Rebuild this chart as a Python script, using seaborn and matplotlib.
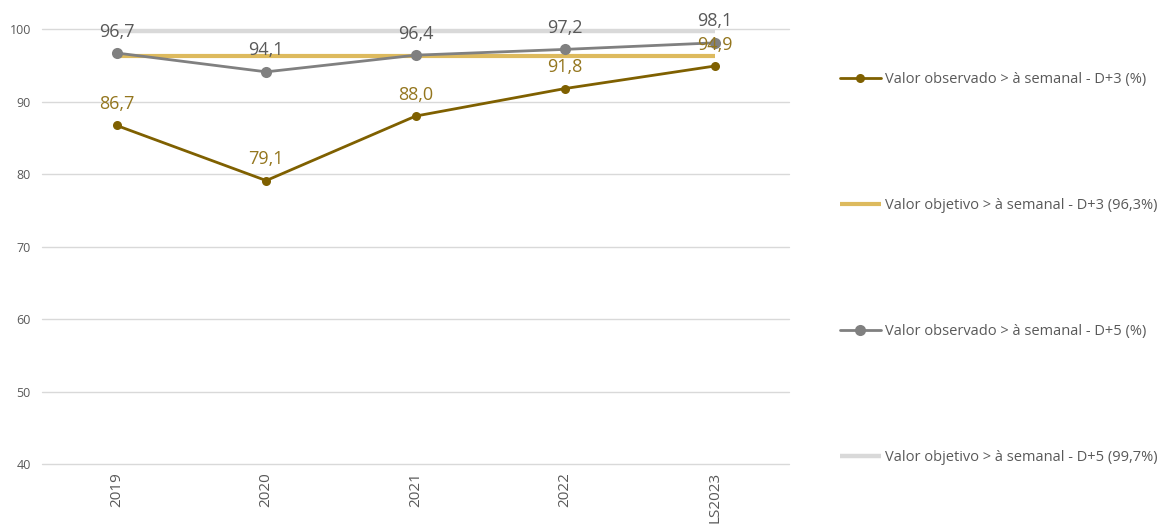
import matplotlib
matplotlib.use("Agg")
import matplotlib.pyplot as plt
import seaborn as sns
import pandas as pd

# Category labels and series values
periods = ["2019", "2020", "2021", "2022", "LS2023"]
obs_d3 = [86.7, 79.1, 88.0, 91.8, 94.9]
obs_d5 = [96.7, 94.1, 96.4, 97.2, 98.1]
target_d3 = [96.3, 96.3, 96.3, 96.3, 96.3]
target_d5 = [99.7, 99.7, 99.7, 99.7, 99.7]

lbl_obs_d3 = "Valor observado > à semanal - D+3 (%)"
lbl_tgt_d3 = "Valor objetivo > à semanal - D+3 (96,3%)"
lbl_obs_d5 = "Valor observado > à semanal - D+5 (%)"
lbl_tgt_d5 = "Valor objetivo > à semanal - D+5 (99,7%)"

sns.set_style("white")
plt.rcParams["font.family"] = ["Open Sans", "DejaVu Sans"]

c_obs_d3 = "#7F6000"
c_tgt_d3 = "#DDBA5E"
c_obs_d5 = "#808080"
c_tgt_d5 = "#D9D9D9"
c_lbl_d3 = "#94761E"
c_lbl_d5 = "#595959"

fig = plt.figure(figsize=(11.66, 5.24), dpi=100)
ax = fig.add_axes([0.036, 0.1145, 0.641, 0.830])

x = list(range(len(periods)))

def frame(vals):
    return pd.DataFrame({"x": x, "y": vals})

sns.lineplot(data=frame(target_d5), x="x", y="y", ax=ax, color=c_tgt_d5,
             lw=3.2, label=lbl_tgt_d5, zorder=2, solid_capstyle="butt")
sns.lineplot(data=frame(target_d3), x="x", y="y", ax=ax, color=c_tgt_d3,
             lw=3.0, label=lbl_tgt_d3, zorder=3, solid_capstyle="butt")
sns.lineplot(data=frame(obs_d5), x="x", y="y", ax=ax, color=c_obs_d5,
             lw=2.0, marker="o", markersize=8, markeredgewidth=0,
             label=lbl_obs_d5, zorder=4)
sns.lineplot(data=frame(obs_d3), x="x", y="y", ax=ax, color=c_obs_d3,
             lw=2.0, marker="o", markersize=6.5, markeredgewidth=0,
             label=lbl_obs_d3, zorder=5)

# Value labels above the observed points
for xi, v in zip(x, obs_d5):
    ax.annotate(f"{v:.1f}".replace(".", ","), (xi, v), xytext=(0, 9),
                textcoords="offset points", ha="center", va="bottom",
                fontsize=13, color=c_lbl_d5, zorder=6, annotation_clip=False)
for xi, v in zip(x, obs_d3):
    ax.annotate(f"{v:.1f}".replace(".", ","), (xi, v), xytext=(0, 9),
                textcoords="offset points", ha="center", va="bottom",
                fontsize=13, color=c_lbl_d3, zorder=7, annotation_clip=False)

ax.set_xlim(-0.5, len(periods) - 0.5)
ax.set_ylim(40, 100)
ax.set_yticks(range(40, 101, 10))
ax.set_xticks(x)
ax.set_xticklabels(periods, rotation=90)
ax.tick_params(axis="both", length=0, colors="#595959")
ax.tick_params(axis="y", pad=8, labelsize=9)
ax.tick_params(axis="x", pad=6, labelsize=11)
ax.set_xlabel("")
ax.set_ylabel("")
ax.grid(axis="y", color="#D9D9D9", lw=1)
for gl in ax.get_ygridlines():
    gl.set_clip_on(False)
ax.set_axisbelow(True)
for s in ax.spines.values():
    s.set_visible(False)

handles, labels = ax.get_legend_handles_labels()
order = [labels.index(l) for l in [lbl_obs_d3, lbl_tgt_d3, lbl_obs_d5, lbl_tgt_d5]]
ax.legend([handles[i] for i in order], [labels[i] for i in order],
          loc="upper left", bbox_to_anchor=(0.709, 0.887), bbox_transform=fig.transFigure,
          frameon=False, fontsize=10.5, labelspacing=7.6, handlelength=2.8,
          handletextpad=0.3, labelcolor="#595959")

fig.savefig("out.png", dpi=100)
